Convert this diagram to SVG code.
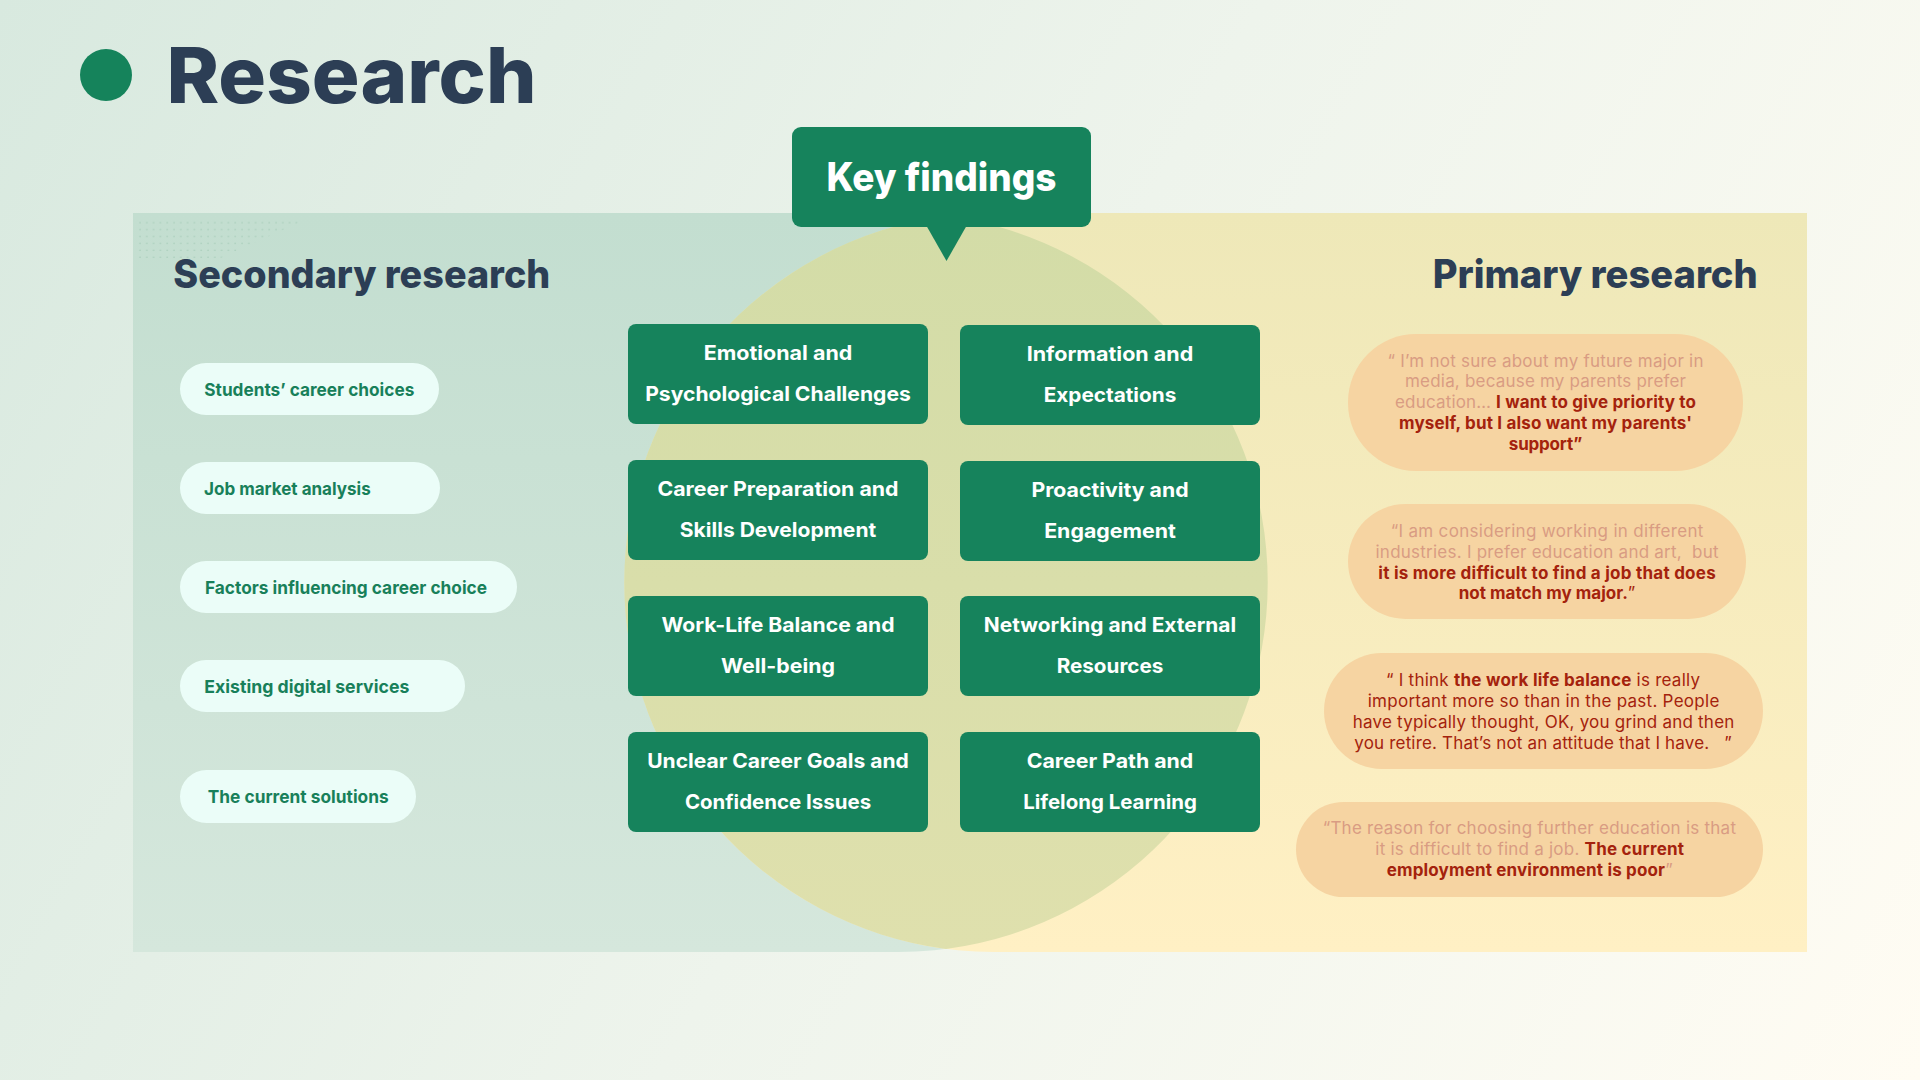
<svg xmlns="http://www.w3.org/2000/svg" width="1920" height="1080" viewBox="0 0 1920 1080">
<defs>
<linearGradient id="bg" x1="0" y1="0" x2="1920" y2="1080" gradientUnits="userSpaceOnUse">
<stop offset="0" stop-color="#d8e9df"/>
<stop offset="0.5" stop-color="#eef4ec"/>
<stop offset="1" stop-color="#fffcf3"/>
</linearGradient>
<linearGradient id="gGreen" x1="0" y1="213" x2="0" y2="952" gradientUnits="userSpaceOnUse">
<stop offset="0" stop-color="#c3ded0"/>
<stop offset="1" stop-color="#d5e7dc"/>
</linearGradient>
<linearGradient id="gYellow" x1="0" y1="213" x2="0" y2="952" gradientUnits="userSpaceOnUse">
<stop offset="0" stop-color="#eee8b8"/>
<stop offset="1" stop-color="#fff0c4"/>
</linearGradient>
<linearGradient id="gOlive" x1="0" y1="213" x2="0" y2="952" gradientUnits="userSpaceOnUse">
<stop offset="0" stop-color="#d3dca7"/>
<stop offset="1" stop-color="#dfe0ad"/>
</linearGradient>
<pattern id="dots" x="137" y="219.5" width="6.8" height="6.9" patternUnits="userSpaceOnUse">
<circle cx="3" cy="3.2" r="0.75" fill="#98c3ad"/>
</pattern>
</defs>
<style>
.h{font-family:Inter,"Noto Sans",sans-serif;font-weight:800;fill:#2c3e55}
.box{fill:#16835c}
.bt{font-family:Inter,"Noto Sans",sans-serif;font-weight:700;font-size:20px;fill:#ffffff;text-anchor:middle}
.pill{fill:#ebfdf8}
.pt{font-family:Inter,"Noto Sans",sans-serif;font-weight:700;font-size:18px;fill:#18805a}
.bub{fill:#f6d4a2}
.q{font-family:Inter,"Noto Sans",sans-serif;font-size:17px;text-anchor:middle}
.lt{fill:#d99c83}
.dk{fill:#a4220d}
.b{font-weight:700}
</style>

<rect width="1920" height="1080" fill="url(#bg)"/>

<g id="title">
<circle cx="106" cy="75" r="26" fill="#15835b"/>
<text class="h" x="166.5" y="103" font-size="77" textLength="370" lengthAdjust="spacingAndGlyphs">Research</text>
</g>

<g id="panel">
<path d="M133,213 H898 A369.5,369.5 0 0 1 898,952 H133 Z" fill="url(#gGreen)"/>
<path d="M1807,213 H994 A369.5,369.5 0 0 0 994,952 H1807 Z" fill="url(#gYellow)"/>
<path d="M946,216.1 A369.5,369.5 0 0 1 946,948.9 A369.5,369.5 0 0 1 946,216.1 Z" fill="url(#gOlive)"/>
<path d="M138,219.5 H306 L212,262 H138 Z" fill="url(#dots)" opacity="0.7"/>
</g>

<g id="secondary-research">
<text class="h" x="173.3" y="288.3" font-size="39" textLength="377" lengthAdjust="spacingAndGlyphs">Secondary research</text>
<g id="pill-1"><rect class="pill" x="180" y="363" width="259" height="52" rx="26"/><text class="pt" x="204.3" y="396" textLength="210" lengthAdjust="spacingAndGlyphs">Students’ career choices</text></g>
<g id="pill-2"><rect class="pill" x="180" y="462" width="260" height="52" rx="26"/><text class="pt" x="204" y="495" textLength="166.7" lengthAdjust="spacingAndGlyphs">Job market analysis</text></g>
<g id="pill-3"><rect class="pill" x="180" y="561" width="337" height="52" rx="26"/><text class="pt" x="205" y="594" textLength="282" lengthAdjust="spacingAndGlyphs">Factors influencing career choice</text></g>
<g id="pill-4"><rect class="pill" x="180" y="660" width="285" height="52" rx="26"/><text class="pt" x="204.3" y="693.3" textLength="205" lengthAdjust="spacingAndGlyphs">Existing digital services</text></g>
<g id="pill-5"><rect class="pill" x="180" y="770" width="236" height="53" rx="26.5"/><text class="pt" x="207.7" y="803.3" textLength="181" lengthAdjust="spacingAndGlyphs">The current solutions</text></g>
</g>

<g id="key-findings">
<rect class="box" x="792" y="127" width="299" height="100" rx="9"/>
<path class="box" d="M926,225 H967 L946.5,261 Z"/>
<text x="941.5" y="190.7" font-family="Inter,'Noto Sans',sans-serif" font-weight="800" font-size="39" fill="#ffffff" text-anchor="middle" textLength="230" lengthAdjust="spacingAndGlyphs">Key findings</text>
</g>

<g id="finding-1"><rect class="box" x="628" y="324" width="300" height="100" rx="8"/>
<text class="bt" x="778" y="360" textLength="148.6" lengthAdjust="spacingAndGlyphs">Emotional and</text>
<text class="bt" x="778" y="401" textLength="265.7" lengthAdjust="spacingAndGlyphs">Psychological Challenges</text></g>
<g id="finding-2"><rect class="box" x="960" y="325" width="300" height="100" rx="8"/>
<text class="bt" x="1110" y="361" textLength="166.6" lengthAdjust="spacingAndGlyphs">Information and</text>
<text class="bt" x="1110" y="402" textLength="132.6" lengthAdjust="spacingAndGlyphs">Expectations</text></g>
<g id="finding-3"><rect class="box" x="628" y="460" width="300" height="100" rx="8"/>
<text class="bt" x="778" y="496" textLength="241.1" lengthAdjust="spacingAndGlyphs">Career Preparation and</text>
<text class="bt" x="778" y="537" textLength="196.4" lengthAdjust="spacingAndGlyphs">Skills Development</text></g>
<g id="finding-4"><rect class="box" x="960" y="461" width="300" height="100" rx="8"/>
<text class="bt" x="1110" y="497" textLength="157.1" lengthAdjust="spacingAndGlyphs">Proactivity and</text>
<text class="bt" x="1110" y="538" textLength="131.7" lengthAdjust="spacingAndGlyphs">Engagement</text></g>
<g id="finding-5"><rect class="box" x="628" y="596" width="300" height="100" rx="8"/>
<text class="bt" x="778" y="632" textLength="233" lengthAdjust="spacingAndGlyphs">Work-Life Balance and</text>
<text class="bt" x="778" y="673" textLength="113.9" lengthAdjust="spacingAndGlyphs">Well-being</text></g>
<g id="finding-6"><rect class="box" x="960" y="596" width="300" height="100" rx="8"/>
<text class="bt" x="1110" y="632" textLength="252.3" lengthAdjust="spacingAndGlyphs">Networking and External</text>
<text class="bt" x="1110" y="673" textLength="106.7" lengthAdjust="spacingAndGlyphs">Resources</text></g>
<g id="finding-7"><rect class="box" x="628" y="732" width="300" height="100" rx="8"/>
<text class="bt" x="778" y="768" textLength="261.6" lengthAdjust="spacingAndGlyphs">Unclear Career Goals and</text>
<text class="bt" x="778" y="809" textLength="186.2" lengthAdjust="spacingAndGlyphs">Confidence Issues</text></g>
<g id="finding-8"><rect class="box" x="960" y="732" width="300" height="100" rx="8"/>
<text class="bt" x="1110" y="768" textLength="166.6" lengthAdjust="spacingAndGlyphs">Career Path and</text>
<text class="bt" x="1110" y="809" textLength="173.7" lengthAdjust="spacingAndGlyphs">Lifelong Learning</text></g>

<g id="primary-research">
<text class="h" x="1432.7" y="288.3" font-size="39" textLength="325" lengthAdjust="spacingAndGlyphs">Primary research</text>
<g id="quote-1"><rect class="bub" x="1348" y="334" width="395" height="137" rx="68"/>
<text class="q lt" x="1545.5" y="366.7" textLength="316">“ I’m not sure about my future major in</text>
<text class="q lt" x="1545.5" y="387.3" textLength="281">media, because my parents prefer</text>
<text class="q" x="1545.5" y="408.3" textLength="301"><tspan class="lt">education… </tspan><tspan class="dk b">I want to give priority to</tspan></text>
<text class="q dk b" x="1545.5" y="429.3" textLength="293">myself, but I also want my parents'</text>
<text class="q dk b" x="1545.5" y="450" textLength="73.4">support”</text></g>
<g id="quote-2"><rect class="bub" x="1348" y="504" width="398" height="115" rx="57.5"/>
<text class="q lt" x="1547" y="536.7" textLength="312.6">“I am considering working in different</text>
<text class="q lt" x="1547" y="557.7" textLength="343" xml:space="preserve">industries. I prefer education and art,  but</text>
<text class="q dk b" x="1547" y="578.7" textLength="337.4">it is more difficult to find a job that does</text>
<text class="q dk" x="1547" y="599.3" textLength="176.7"><tspan class="b">not match my major.</tspan>”</text></g>
<g id="quote-3"><rect class="bub" x="1324" y="653" width="439" height="116" rx="58"/>
<text class="q dk" x="1543" y="685.7" textLength="314">“ I think <tspan class="b">the work life balance</tspan> is really</text>
<text class="q dk" x="1543.5" y="706.7" textLength="351.6">important more so than in the past. People</text>
<text class="q dk" x="1543.5" y="727.7" textLength="381.6">have typically thought, OK, you grind and then</text>
<text class="q dk" x="1543" y="748.7" textLength="377.4" xml:space="preserve">you retire. That’s not an attitude that I have.   ”</text></g>
<g id="quote-4"><rect class="bub" x="1296" y="802" width="467" height="95" rx="47.5"/>
<text class="q lt" x="1529.3" y="834" textLength="413.3">“The reason for choosing further education is that</text>
<text class="q" x="1529.7" y="855" textLength="308.7"><tspan class="lt">it is difficult to find a job. </tspan><tspan class="dk b">The current</tspan></text>
<text class="q" x="1529.7" y="876" textLength="286"><tspan class="dk b">employment environment is poor</tspan><tspan class="lt">”</tspan></text></g>
</g>

<g id="connectors"/>
</svg>
